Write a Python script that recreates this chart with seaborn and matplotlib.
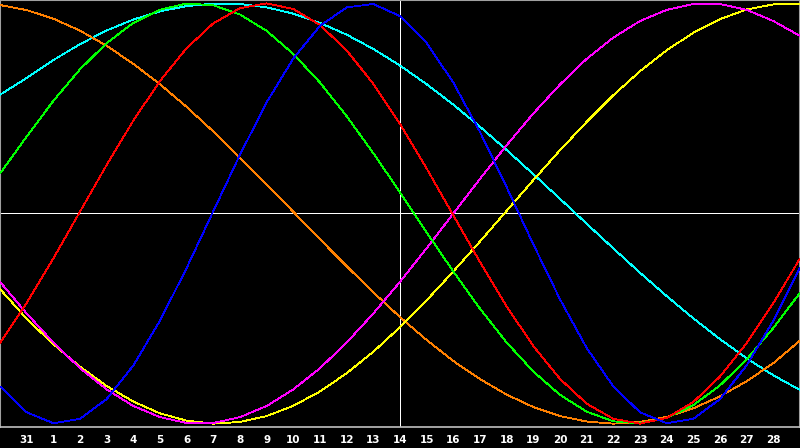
import matplotlib
matplotlib.use("Agg")
import matplotlib.pyplot as plt
import seaborn as sns
import pandas as pd

days = list(range(31))
tick_pos = list(range(1, 30))
tick_labels = ["31"] + [str(d) for d in range(1, 29)]

physical = [-0.823, -0.946, -0.998, -0.977, -0.883, -0.723, -0.510, -0.259, 0.011, 0.280,
            0.529, 0.738, 0.893, 0.981, 0.997, 0.939, 0.811, 0.623, 0.388, 0.125,
            -0.147, -0.408, -0.640, -0.823, -0.946, -0.998, -0.977, -0.883, -0.723, -0.510, -0.259]
emotional = [-0.616, -0.426, -0.214, 0.009, 0.231, 0.442, 0.631, 0.787, 0.905, 0.977,
             1.000, 0.973, 0.897, 0.776, 0.617, 0.426, 0.214, -0.009, -0.231, -0.442,
             -0.631, -0.787, -0.905, -0.977, -1.000, -0.973, -0.897, -0.776, -0.617, -0.426, -0.214]
intellectual = [0.190, 0.366, 0.536, 0.686, 0.811, 0.907, 0.970, 0.999, 0.991, 0.947,
                0.869, 0.759, 0.623, 0.463, 0.287, 0.101, -0.090, -0.276, -0.453, -0.614,
                -0.752, -0.863, -0.943, -0.989, -0.999, -0.973, -0.912, -0.818, -0.694, -0.545, -0.377]
intuitive = [-0.325, -0.476, -0.614, -0.736, -0.837, -0.916, -0.969, -0.997, -0.997, -0.969,
             -0.916, -0.837, -0.736, -0.614, -0.476, -0.325, -0.165, 0.000, 0.165, 0.325,
             0.476, 0.614, 0.736, 0.837, 0.916, 0.969, 0.997, 0.997, 0.969, 0.916, 0.845]
aesthetic = [-0.360, -0.501, -0.622, -0.729, -0.821, -0.895, -0.951, -0.986, -1.000, -0.992,
             -0.964, -0.915, -0.847, -0.760, -0.658, -0.541, -0.413, -0.276, -0.133, 0.013,
             0.159, 0.301, 0.436, 0.563, 0.677, 0.777, 0.860, 0.925, 0.971, 0.995, 0.999]
awareness = [0.992, 0.968, 0.927, 0.870, 0.798, 0.712, 0.615, 0.507, 0.390, 0.266,
             0.138, 0.008, -0.123, -0.251, -0.375, -0.493, -0.602, -0.702, -0.788, -0.862,
             -0.921, -0.964, -0.990, -1.000, -0.992, -0.968, -0.927, -0.870, -0.798, -0.712, -0.605]
spiritual = [0.565, 0.645, 0.730, 0.806, 0.871, 0.923, 0.962, 0.987, 0.999, 0.997,
             0.981, 0.951, 0.907, 0.851, 0.783, 0.704, 0.615, 0.518, 0.413, 0.302,
             0.187, 0.070, -0.049, -0.166, -0.282, -0.393, -0.499, -0.598, -0.689, -0.770, -0.840]

series = {
    "spiritual": spiritual,
    "awareness": awareness,
    "aesthetic": aesthetic,
    "intuitive": intuitive,
    "intellectual": intellectual,
    "emotional": emotional,
    "physical": physical,
}
colors = {
    "spiritual": "#00ffff",
    "awareness": "#ff8000",
    "aesthetic": "#ffff00",
    "intuitive": "#ff00ff",
    "intellectual": "#00ff00",
    "emotional": "#ff0000",
    "physical": "#0000ff",
}

rows = []
for name, vals in series.items():
    for d, v in zip(days, vals):
        rows.append({"day": d, "value": v, "cycle": name})
df = pd.DataFrame(rows)

sns.set_style("dark")
fig = plt.figure(figsize=(8, 4.48), dpi=100, facecolor="black")
ax = fig.add_axes([0, 21 / 448, 1, 427 / 448])
ax.set_facecolor("black")

ax.axhline(0, color="white", lw=0.72, zorder=1, antialiased=False)
ax.axvline(15, color="white", lw=0.72, zorder=1, antialiased=False)

sns.lineplot(data=df, x="day", y="value", hue="cycle", palette=colors,
             hue_order=list(series.keys()), legend=False,
             ax=ax, zorder=3, estimator=None)
for line in ax.get_lines()[2:]:
    line.set_linewidth(0.6)
    line.set_antialiased(False)

ax.set_xlim(0, 30)
ax.set_ylim(-1.016, 1.016)
ax.set_xticks(tick_pos)
ax.set_xticklabels(tick_labels, fontsize=7.5, fontweight="bold", color="white",
                   family="DejaVu Sans")
ax.set_yticks([])
ax.set_xlabel("")
ax.set_ylabel("")
ax.tick_params(axis="x", direction="in", length=5, width=1, colors="white",
               pad=6, labelcolor="white")
ax.grid(False)
for side in ["left", "top", "right"]:
    ax.spines[side].set_visible(True)
    ax.spines[side].set_color("#a0a0a0")
    ax.spines[side].set_linewidth(1.5)
ax.spines["bottom"].set_visible(True)
ax.spines["bottom"].set_color("#c0c0c0")
ax.spines["bottom"].set_linewidth(1.2)

fig.savefig("out.png", dpi=100, facecolor="black")
